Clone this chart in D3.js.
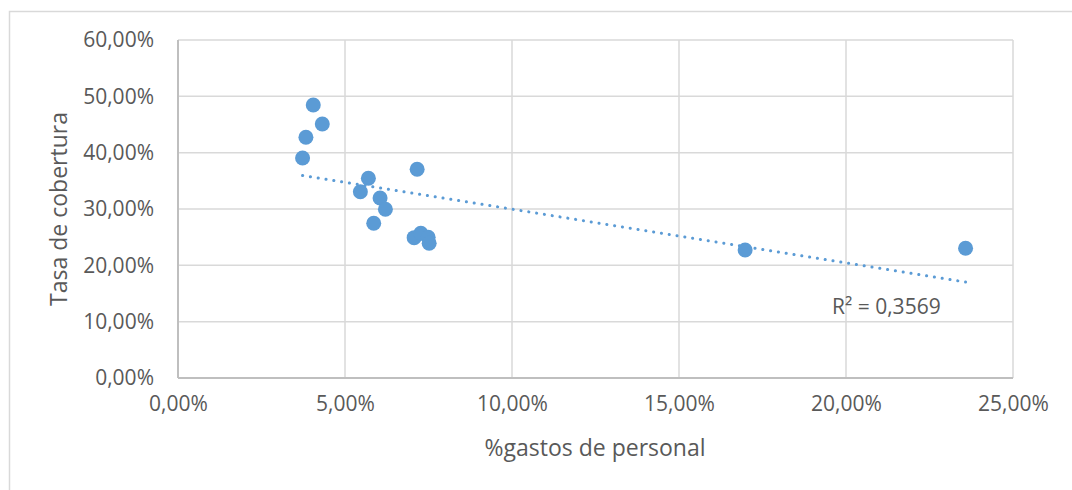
<!DOCTYPE html>
<html>
<head>
<meta charset="utf-8">
<script src="https://cdn.jsdelivr.net/npm/d3@7"></script>
<style>
  body { margin: 0; background: #fff; }
  text { font-family: "Open Sans", sans-serif; fill: #595959; }
</style>
</head>
<body>
<div id="container"></div>
<script>
// values (fractions)
const gastosPersonal = [0.0405, 0.0432, 0.0383, 0.0373, 0.0570, 0.0546, 0.0605, 0.0621, 0.0586, 0.0716, 0.0707, 0.0727, 0.0749, 0.0752, 0.1698, 0.2358];
const tasaCobertura = [0.4846, 0.4509, 0.4273, 0.3906, 0.3545, 0.3307, 0.3195, 0.2995, 0.2746, 0.3705, 0.2491, 0.2569, 0.2498, 0.2391, 0.2272, 0.2302];
const xTicks = [0, 0.05, 0.10, 0.15, 0.20, 0.25];
const yTicks = [0, 0.10, 0.20, 0.30, 0.40, 0.50, 0.60];
const r2Label = "R² = 0,3569";

const width = 1072;
const height = 490;
const margin = { left: 178, right: 59, top: 40, bottom: 112 };

const svg = d3
  .select("#container")
  .append("svg")
  .attr("width", width)
  .attr("height", height);

// chart frame
svg
  .append("rect")
  .attr("x", 9.5)
  .attr("y", 11.5)
  .attr("width", width + 10)
  .attr("height", height + 10)
  .attr("fill", "none")
  .attr("stroke", "#d9d9d9")
  .attr("stroke-width", 1.5);

const xScale = d3
  .scaleLinear()
  .domain([0, 0.25])
  .range([margin.left, width - margin.right]);

const yScale = d3
  .scaleLinear()
  .domain([0, 0.6])
  .range([height - margin.bottom, margin.top]);

const pct = (d) => d3.format(".2f")(d * 100).replace(".", ",") + "%";

// gridlines
svg
  .append("g")
  .selectAll("line")
  .data(yTicks)
  .join("line")
  .attr("x1", xScale(0))
  .attr("x2", xScale(0.25))
  .attr("y1", (d) => yScale(d))
  .attr("y2", (d) => yScale(d))
  .attr("stroke", "#d9d9d9")
  .attr("stroke-width", 1.5);

svg
  .append("g")
  .selectAll("line")
  .data(xTicks)
  .join("line")
  .attr("x1", (d) => xScale(d))
  .attr("x2", (d) => xScale(d))
  .attr("y1", yScale(0))
  .attr("y2", yScale(0.6))
  .attr("stroke", "#d9d9d9")
  .attr("stroke-width", 1.5);

// axis lines
svg
  .append("line")
  .attr("x1", xScale(0))
  .attr("x2", xScale(0.25))
  .attr("y1", yScale(0))
  .attr("y2", yScale(0))
  .attr("stroke", "#bfbfbf")
  .attr("stroke-width", 2);
svg
  .append("line")
  .attr("x1", xScale(0))
  .attr("x2", xScale(0))
  .attr("y1", yScale(0))
  .attr("y2", yScale(0.6))
  .attr("stroke", "#bfbfbf")
  .attr("stroke-width", 2);

// axes (labels only)
const yAxis = d3.axisLeft(yScale).tickValues(yTicks).tickFormat(pct).tickSize(0).tickPadding(24);
svg
  .append("g")
  .attr("transform", `translate(${margin.left}, 0)`)
  .call(yAxis)
  .call((g) => g.select(".domain").remove())
  .selectAll("text")
  .attr("font-size", "21px")
  .attr("font-family", "Open Sans")
  .attr("fill", "#595959");

const xAxis = d3.axisBottom(xScale).tickValues(xTicks).tickFormat(pct).tickSize(0).tickPadding(18);
svg
  .append("g")
  .attr("transform", `translate(0, ${height - margin.bottom})`)
  .call(xAxis)
  .call((g) => g.select(".domain").remove())
  .selectAll("text")
  .attr("font-size", "21px")
  .attr("font-family", "Open Sans")
  .attr("fill", "#595959");

// axis titles
svg
  .append("text")
  .attr("x", 595)
  .attr("y", 456)
  .attr("text-anchor", "middle")
  .attr("font-size", "23px")
  .text("%gastos de personal");

svg
  .append("text")
  .attr("transform", `translate(67, ${yScale(0.3)}) rotate(-90)`)
  .attr("text-anchor", "middle")
  .attr("font-size", "23px")
  .text("Tasa de cobertura");

// linear trendline
const points = gastosPersonal.map((x, i) => [x, tasaCobertura[i]]);
const meanX = d3.mean(gastosPersonal);
const meanY = d3.mean(tasaCobertura);
const slope =
  d3.sum(points, (p) => (p[0] - meanX) * (p[1] - meanY)) /
  d3.sum(points, (p) => (p[0] - meanX) ** 2);
const intercept = meanY - slope * meanX;
const xMin = d3.min(gastosPersonal);
const xMax = d3.max(gastosPersonal);

svg
  .append("line")
  .attr("x1", xScale(xMin))
  .attr("y1", yScale(intercept + slope * xMin))
  .attr("x2", xScale(xMax))
  .attr("y2", yScale(intercept + slope * xMax))
  .attr("stroke", "#5b9bd5")
  .attr("stroke-width", 3)
  .attr("stroke-linecap", "round")
  .attr("stroke-dasharray", "0.1 7.8");

// points
svg
  .append("g")
  .selectAll("circle")
  .data(points)
  .join("circle")
  .attr("cx", (d) => xScale(d[0]))
  .attr("cy", (d) => yScale(d[1]))
  .attr("r", 7.5)
  .attr("fill", "#5b9bd5");

svg
  .append("text")
  .attr("x", 832)
  .attr("y", 314)
  .attr("font-size", "21px")
  .text(r2Label);
</script>
</body>
</html>
